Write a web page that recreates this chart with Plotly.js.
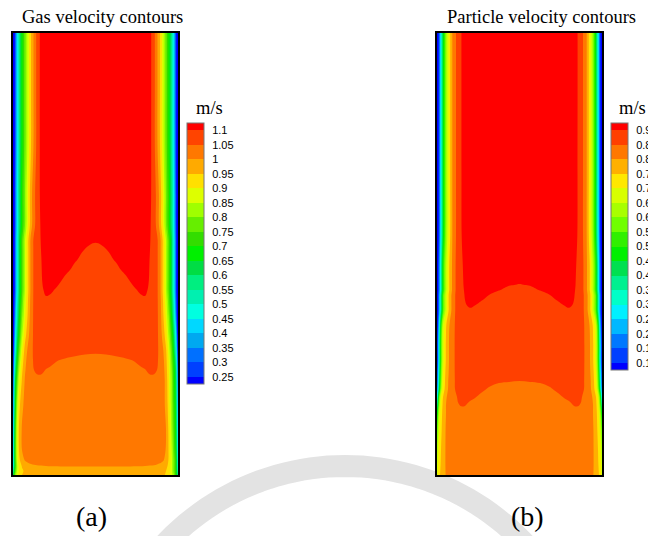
<!DOCTYPE html>
<html><head><meta charset="utf-8">
<script src="https://cdn.plot.ly/plotly-3.0.1.min.js"></script>
<style>html,body{margin:0;padding:0;background:#fff;overflow:hidden}#chart{width:648px;height:536px}</style>
</head><body><div id="chart"></div>
<script>
// column positions: distance from the left wall (channel width 165)
const colD = [0,2,4,6,9,12,15,18,21,24,28,33,38,44,52,62,72,82.5];
const width = 165;

// ---- (a) gas velocity, m/s : rows are heights from the bottom
const rowsA = [0,4,9,15,25,45,70,95,105,115,125,140,160,175,185,195,205,215,225,235,250,280,330,390,442];
// left wall -> centre (18 columns of colD)
const gasHalf = [
 [0.6,0.8,0.88,0.92,0.95,0.96,0.964,0.966,0.967,0.968, 0.968,0.969,0.969,0.97,0.97,0.97,0.97,0.97],
 [0.5,0.74,0.85,0.9,0.94,0.96,0.97,0.975,0.978,0.98, 0.98,0.981,0.982,0.983,0.984,0.985,0.985,0.985],
 [0.42,0.7,0.84,0.91,0.955,0.98,0.99,0.995,0.997,0.998, 0.999,1.0,1.001,1.001,1.002,1.002,1.002,1.002],
 [0.4,0.71,0.86,0.935,0.985,1.003,1.008,1.01,1.012,1.013, 1.013,1.013,1.013,1.013,1.012,1.012,1.012,1.012],
 [0.38,0.72,0.87,0.95,1.0,1.012,1.016,1.018,1.019,1.02, 1.02,1.02,1.02,1.02,1.02,1.02,1.02,1.02],
 [0.35,0.7,0.87,0.955,1.005,1.015,1.02,1.023,1.024,1.025, 1.026,1.026,1.026,1.025,1.025,1.025,1.025,1.025],
 [0.3,0.65,0.83,0.93,0.99,1.012,1.022,1.028,1.032,1.034, 1.034,1.034,1.033,1.032,1.031,1.03,1.03,1.03],
 [0.25,0.6,0.76,0.87,0.955,1.005,1.025,1.035,1.04,1.043, 1.044,1.042,1.04,1.038,1.036,1.035,1.035,1.035],
 [0.22,0.55,0.72,0.84,0.94,0.995,1.025,1.04,1.05,1.055, 1.055,1.049,1.046,1.043,1.041,1.04,1.04,1.04],
 [0.2,0.5,0.68,0.8,0.92,0.985,1.02,1.04,1.055,1.062, 1.062,1.06,1.056,1.051,1.048,1.046,1.045,1.045],
 [0.18,0.45,0.64,0.76,0.89,0.97,1.01,1.038,1.058,1.068, 1.07,1.068,1.066,1.064,1.061,1.057,1.054,1.053],
 [0.15,0.4,0.58,0.7,0.84,0.93,0.985,1.03,1.06,1.075, 1.08,1.078,1.075,1.072,1.068,1.063,1.061,1.06],
 [0.13,0.35,0.52,0.65,0.79,0.89,0.96,1.025,1.06,1.08, 1.087,1.089,1.087,1.083,1.077,1.072,1.07,1.07],
 [0.12,0.32,0.48,0.62,0.76,0.87,0.95,1.02,1.06,1.08, 1.09,1.096,1.093,1.087,1.08,1.076,1.074,1.073],
 [0.1,0.3,0.46,0.6,0.74,0.85,0.94,1.015,1.06,1.08, 1.094,1.106,1.104,1.096,1.088,1.082,1.079,1.078],
 [0.1,0.3,0.46,0.6,0.74,0.85,0.94,1.015,1.06,1.08, 1.096,1.114,1.118,1.108,1.095,1.086,1.082,1.08],
 [0.1,0.3,0.46,0.6,0.74,0.85,0.94,1.015,1.06,1.08, 1.097,1.117,1.125,1.12,1.106,1.094,1.088,1.085],
 [0.1,0.3,0.46,0.6,0.74,0.85,0.94,1.015,1.06,1.08, 1.098,1.12,1.128,1.125,1.112,1.102,1.093,1.09],
 [0.1,0.3,0.46,0.6,0.74,0.85,0.94,1.015,1.06,1.08, 1.1,1.122,1.132,1.13,1.12,1.108,1.099,1.095],
 [0.1,0.3,0.46,0.6,0.74,0.85,0.94,1.015,1.06,1.08, 1.102,1.125,1.135,1.135,1.125,1.115,1.107,1.102],
 [0.1,0.29,0.44,0.57,0.7,0.8,0.9,0.98,1.035,1.075, 1.105,1.13,1.14,1.14,1.135,1.13,1.125,1.12],
 [0.1,0.29,0.44,0.57,0.7,0.8,0.9,0.98,1.035,1.075, 1.11,1.135,1.145,1.148,1.148,1.145,1.142,1.14],
 [0.1,0.28,0.42,0.55,0.68,0.78,0.87,0.95,1.01,1.065, 1.115,1.14,1.15,1.153,1.155,1.153,1.151,1.15],
 [0.1,0.28,0.42,0.55,0.68,0.78,0.87,0.95,1.01,1.065, 1.115,1.14,1.15,1.155,1.16,1.16,1.16,1.16],
 [0.1,0.28,0.42,0.55,0.68,0.78,0.87,0.95,1.01,1.065, 1.115,1.14,1.15,1.155,1.16,1.16,1.16,1.16]
];
// right wall layer (distance from the right wall = first 10 columns of colD); thicker in the lower part
const gasRightWall = [
 [0.55,0.72,0.8,0.86,0.92,0.945,0.958,0.963,0.966,0.968],
 [0.5,0.7,0.78,0.85,0.915,0.95,0.965,0.972,0.976,0.98],
 [0.47,0.7,0.78,0.85,0.93,0.97,0.985,0.993,0.996,0.998],
 [0.45,0.7,0.78,0.85,0.94,0.99,1.004,1.009,1.011,1.013],
 [0.42,0.68,0.76,0.84,0.94,0.998,1.012,1.017,1.019,1.02],
 [0.4,0.66,0.74,0.82,0.935,1.0,1.015,1.021,1.024,1.025],
 [0.35,0.64,0.72,0.81,0.915,0.99,1.015,1.025,1.03,1.033],
 [0.3,0.62,0.7,0.8,0.9,0.985,1.02,1.035,1.04,1.043],
 [0.28,0.6,0.69,0.79,0.895,0.975,1.02,1.04,1.05,1.055],
 [0.25,0.56,0.67,0.77,0.89,0.965,1.015,1.04,1.055,1.062],
 [0.22,0.5,0.64,0.75,0.87,0.955,1.005,1.038,1.058,1.068],
 [0.18,0.44,0.6,0.71,0.83,0.925,0.98,1.03,1.06,1.075],
 [0.13,0.35,0.52,0.65,0.79,0.89,0.96,1.025,1.06,1.08],
 [0.12,0.32,0.48,0.62,0.76,0.87,0.95,1.02,1.06,1.08],
 [0.1,0.3,0.46,0.6,0.74,0.85,0.94,1.015,1.06,1.08],
 [0.1,0.3,0.46,0.6,0.74,0.85,0.94,1.015,1.06,1.08],
 [0.1,0.3,0.46,0.6,0.74,0.85,0.94,1.015,1.06,1.08],
 [0.1,0.3,0.46,0.6,0.74,0.85,0.94,1.015,1.06,1.08],
 [0.1,0.3,0.46,0.6,0.74,0.85,0.94,1.015,1.06,1.08],
 [0.1,0.3,0.46,0.6,0.74,0.85,0.94,1.015,1.06,1.08],
 [0.1,0.29,0.44,0.57,0.7,0.8,0.9,0.98,1.035,1.075],
 [0.1,0.29,0.44,0.57,0.7,0.8,0.9,0.98,1.035,1.075],
 [0.1,0.28,0.42,0.55,0.68,0.78,0.87,0.95,1.01,1.065],
 [0.1,0.28,0.42,0.55,0.68,0.78,0.87,0.95,1.01,1.065],
 [0.1,0.28,0.42,0.55,0.68,0.78,0.87,0.95,1.01,1.065]
];
const levelsA = [0.25,0.3,0.35,0.4,0.45,0.5,0.55,0.6,0.65,0.7,0.75,0.8,0.85,0.9,0.95,1,1.05,1.1];
const labelsA = ['0.25','0.3','0.35','0.4','0.45','0.5','0.55','0.6','0.65','0.7','0.75','0.8','0.85','0.9','0.95','1','1.05','1.1'];
const colorsA = ['#0000FF','#0040FF','#0070FF','#00A8F0','#00D8FF','#00FFE0','#00F0B0','#00EE80','#00DD44','#00F000','#33DD00','#66EE00','#A0FF00','#DDFF00','#FFE000','#FFAA00','#FF7800','#FF4400','#FF0000'];

// ---- (b) particle velocity, m/s (symmetric)
const rowsB = [0,10,25,45,62,70,78,86,94,102,115,130,150,165,170,175,180,185,190,195,210,240,300,380,442];
const partHalf = [
 [0.67,0.74,0.76,0.78,0.803,0.813,0.819,0.822,0.824,0.825, 0.825,0.825,0.825,0.825,0.825,0.825,0.825,0.825],
 [0.65,0.73,0.755,0.78,0.805,0.816,0.822,0.826,0.828,0.829, 0.829,0.83,0.83,0.83,0.83,0.83,0.83,0.83],
 [0.62,0.72,0.75,0.775,0.806,0.818,0.825,0.829,0.831,0.832, 0.833,0.833,0.833,0.833,0.833,0.833,0.833,0.833],
 [0.55,0.69,0.74,0.77,0.805,0.817,0.825,0.832,0.835,0.837, 0.838,0.838,0.838,0.838,0.837,0.837,0.837,0.837],
 [0.45,0.65,0.73,0.765,0.8,0.815,0.828,0.838,0.843,0.845, 0.846,0.845,0.843,0.842,0.841,0.84,0.84,0.84],
 [0.35,0.6,0.72,0.76,0.8,0.818,0.832,0.843,0.849,0.851, 0.8505,0.848,0.846,0.844,0.843,0.842,0.842,0.842],
 [0.25,0.55,0.7,0.75,0.795,0.815,0.833,0.846,0.852,0.855, 0.855,0.852,0.8505,0.848,0.846,0.845,0.844,0.843],
 [0.15,0.42,0.62,0.72,0.775,0.812,0.834,0.85,0.856,0.858, 0.858,0.856,0.854,0.852,0.849,0.847,0.846,0.846],
 [0.12,0.37,0.59,0.71,0.77,0.81,0.832,0.851,0.859,0.862, 0.862,0.861,0.858,0.856,0.853,0.851,0.8505,0.85],
 [0.1,0.34,0.57,0.7,0.765,0.805,0.83,0.852,0.862,0.866, 0.866,0.866,0.864,0.861,0.857,0.855,0.854,0.853],
 [0.07,0.3,0.54,0.68,0.755,0.8,0.828,0.853,0.865,0.872, 0.87,0.871,0.869,0.866,0.863,0.86,0.859,0.858],
 [0.07,0.3,0.54,0.68,0.755,0.8,0.828,0.853,0.865,0.872, 0.877,0.878,0.877,0.874,0.871,0.868,0.867,0.866],
 [0.05,0.25,0.5,0.66,0.745,0.795,0.825,0.852,0.868,0.878, 0.885,0.887,0.886,0.883,0.879,0.876,0.875,0.874],
 [0.04,0.18,0.38,0.54,0.67,0.76,0.81,0.848,0.872,0.888, 0.893,0.897,0.895,0.891,0.886,0.883,0.882,0.881],
 [0.04,0.18,0.38,0.54,0.67,0.76,0.81,0.848,0.872,0.888, 0.898,0.904,0.9005,0.895,0.891,0.888,0.886,0.885],
 [0.04,0.18,0.38,0.54,0.67,0.76,0.81,0.848,0.872,0.888, 0.9,0.907,0.906,0.9015,0.895,0.892,0.89,0.889],
 [0.04,0.18,0.38,0.54,0.67,0.76,0.81,0.848,0.872,0.888, 0.902,0.91,0.91,0.905,0.9,0.896,0.894,0.893],
 [0.04,0.16,0.34,0.5,0.64,0.745,0.8,0.845,0.87,0.892, 0.903,0.912,0.913,0.908,0.904,0.9005,0.897,0.896],
 [0.04,0.16,0.34,0.5,0.64,0.745,0.8,0.845,0.87,0.892, 0.905,0.915,0.916,0.91,0.905,0.902,0.9005,0.8995],
 [0.04,0.16,0.34,0.5,0.64,0.745,0.8,0.845,0.87,0.892, 0.906,0.918,0.92,0.914,0.908,0.905,0.903,0.902],
 [0.04,0.16,0.34,0.5,0.64,0.745,0.8,0.845,0.87,0.892, 0.91,0.925,0.928,0.925,0.918,0.912,0.91,0.909],
 [0.03,0.13,0.3,0.45,0.6,0.72,0.795,0.84,0.87,0.897, 0.915,0.93,0.935,0.935,0.933,0.93,0.928,0.927],
 [0.03,0.13,0.3,0.45,0.6,0.72,0.795,0.84,0.87,0.897, 0.922,0.937,0.943,0.945,0.945,0.945,0.945,0.945],
 [0.03,0.13,0.3,0.45,0.6,0.72,0.795,0.84,0.87,0.897, 0.925,0.94,0.945,0.948,0.95,0.95,0.95,0.95],
 [0.03,0.13,0.3,0.45,0.6,0.72,0.795,0.84,0.87,0.897, 0.925,0.94,0.945,0.948,0.95,0.95,0.95,0.95]
];
const levelsB = [0.1,0.15,0.2,0.25,0.3,0.35,0.4,0.45,0.5,0.55,0.6,0.65,0.7,0.75,0.8,0.85,0.9];
const labelsB = ['0.1','0.15','0.2','0.25','0.3','0.35','0.4','0.45','0.5','0.55','0.6','0.65','0.7','0.75','0.8','0.85','0.9'];
const colorsB = ['#0000FF','#0040FF','#0078FF','#00B8FF','#00F0FF','#00FFC8','#00F090','#00E050','#00F000','#30F000','#70FF00','#A8FF00','#D8FF00','#FFE800','#FFB000','#FF7800','#FF4000','#FF0000'];

// ---- build the full tables for the library
const xFull = colD.concat(colD.slice(0, -1).reverse().map(d => width - d));
const mirror = rows => rows.map(r => r.concat(r.slice(0, -1).reverse()));
const withRight = (rows, right) => rows.map((r, i) => r.concat(r.slice(10, 17).reverse(), right[i].slice().reverse()));
const scale = cols => cols.map((c, j) => [j / (cols.length - 1), c]);

function cbar(xpx, levels, labels) {
  const band = 14.5;
  return {
    x: xpx / 648, xanchor: 'left', xpad: 0, y: 1 - 123 / 536, yanchor: 'top', ypad: 0,
    len: band * levels.length, lenmode: 'pixels', thickness: 17, thicknessmode: 'pixels',
    outlinewidth: 1, outlinecolor: '#777', tickmode: 'array', tickvals: levels, ticktext: labels,
    ticks: 'outside', ticklen: 6, tickcolor: 'rgba(0,0,0,0)',
    tickfont: {family: 'Liberation Sans, Arial, sans-serif', size: 11, color: '#000'}
  };
}

const traces = [
  {type: 'contour', x: xFull, y: rowsA, z: withRight(gasHalf, gasRightWall), xaxis: 'x', yaxis: 'y',
   autocontour: false, contours: {start: levelsA[0], end: levelsA[levelsA.length - 1], size: 0.05, coloring: 'fill', showlines: false},
   colorscale: scale(colorsA), line: {width: 0, smoothing: 1}, hoverinfo: 'skip',
   colorbar: cbar(187, levelsA, labelsA)},
  {type: 'contour', x: xFull, y: rowsB, z: mirror(partHalf), xaxis: 'x2', yaxis: 'y2',
   autocontour: false, contours: {start: levelsB[0], end: levelsB[levelsB.length - 1], size: 0.05, coloring: 'fill', showlines: false},
   colorscale: scale(colorsB), line: {width: 0, smoothing: 1}, hoverinfo: 'skip',
   colorbar: cbar(611, levelsB, labelsB)}
];

// faint watermark ring behind the figure (page pixels -> paper fractions)
const P = (px, py) => (px / 648).toFixed(4) + ',' + (1 - py / 536).toFixed(4);
let ring = '';
for (let a = 32; a <= 148; a += 2) {
  const t = a * Math.PI / 180;
  ring += (a === 32 ? 'M' : 'L') + P(345 + 247 * Math.cos(t), 713 - 247 * Math.sin(t));
}
const shapes = [
  {type: 'path', path: ring, xref: 'paper', yref: 'paper', layer: 'below', line: {color: '#e3e3e3', width: 22}},
  {type: 'rect', xref: 'paper', yref: 'paper', x0: 0, x1: 241 / 648, y0: 1 - 468 / 536, y1: 1, layer: 'below', fillcolor: '#fff', line: {width: 0}}
];

const ax = {showgrid: false, zeroline: false, showticklabels: false, ticks: '', showline: true, mirror: true, linecolor: '#000', linewidth: 2, fixedrange: true};
const serif = 'Liberation Serif, Times New Roman, serif';
const ydom = [1 - 475 / 536, 1 - 33 / 536];
const layout = {
  width: 648, height: 536, margin: {l: 0, r: 0, t: 0, b: 0, autoexpand: false}, showlegend: false,
  paper_bgcolor: '#fff', plot_bgcolor: 'rgba(0,0,0,0)', shapes: shapes,
  xaxis: Object.assign({}, ax, {domain: [13 / 648, 178 / 648], range: [0, width], anchor: 'y'}),
  yaxis: Object.assign({}, ax, {domain: ydom, range: [0, 442], anchor: 'x'}),
  xaxis2: Object.assign({}, ax, {domain: [437 / 648, 602 / 648], range: [0, width], anchor: 'y2'}),
  yaxis2: Object.assign({}, ax, {domain: ydom, range: [0, 442], anchor: 'x2'}),
  annotations: [
    {text: 'Gas velocity contours', x: 102 / 648, y: 1 - 17 / 536, xref: 'paper', yref: 'paper', showarrow: false, xanchor: 'center', yanchor: 'middle', font: {family: serif, size: 18.5, color: '#000'}},
    {text: 'Particle velocity contours', x: 541 / 648, y: 1 - 17 / 536, xref: 'paper', yref: 'paper', showarrow: false, xanchor: 'center', yanchor: 'middle', font: {family: serif, size: 18.5, color: '#000'}},
    {text: 'm/s', x: 209 / 648, y: 1 - 108 / 536, xref: 'paper', yref: 'paper', showarrow: false, xanchor: 'center', yanchor: 'middle', font: {family: serif, size: 18.5, color: '#000'}},
    {text: 'm/s', x: 632 / 648, y: 1 - 108 / 536, xref: 'paper', yref: 'paper', showarrow: false, xanchor: 'center', yanchor: 'middle', font: {family: serif, size: 18.5, color: '#000'}},
    {text: '(a)', x: 91 / 648, y: 1 - 516 / 536, xref: 'paper', yref: 'paper', showarrow: false, xanchor: 'center', yanchor: 'middle', font: {family: serif, size: 28, color: '#000'}},
    {text: '(b)', x: 527 / 648, y: 1 - 516 / 536, xref: 'paper', yref: 'paper', showarrow: false, xanchor: 'center', yanchor: 'middle', font: {family: serif, size: 28, color: '#000'}}
  ]
};
Plotly.newPlot('chart', traces, layout, {staticPlot: true, displayModeBar: false});
</script></body></html>
